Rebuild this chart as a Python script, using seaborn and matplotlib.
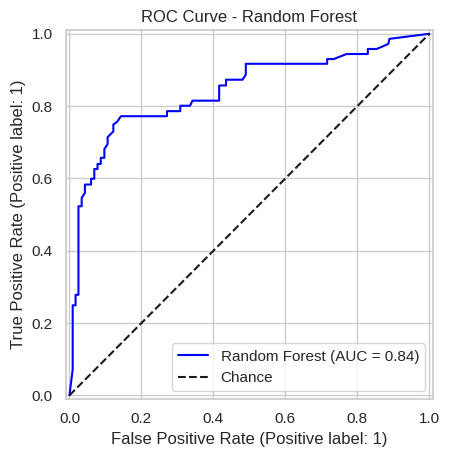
import seaborn as sns
import pandas as pd
import matplotlib.pyplot as plt

# ROC points
fpr = [0.0, 0.009, 0.009, 0.017, 0.017, 0.025, 0.025, 0.034, 0.034, 0.043, 0.043,
       0.060, 0.060, 0.069, 0.069, 0.078, 0.078, 0.087, 0.087, 0.097, 0.097, 0.106,
       0.106, 0.122, 0.122, 0.132, 0.143, 0.271, 0.271, 0.308, 0.308, 0.335, 0.342,
       0.416, 0.416, 0.435, 0.435, 0.481, 0.490, 0.490, 0.716, 0.716, 0.734, 0.770,
       0.829, 0.829, 0.854, 0.886, 0.889, 1.0]
tpr = [0.0, 0.072, 0.249, 0.249, 0.278, 0.278, 0.523, 0.523, 0.546, 0.560, 0.583,
       0.583, 0.599, 0.599, 0.626, 0.626, 0.640, 0.640, 0.657, 0.657, 0.681, 0.695,
       0.714, 0.730, 0.749, 0.756, 0.772, 0.772, 0.786, 0.786, 0.801, 0.801, 0.815,
       0.815, 0.857, 0.857, 0.873, 0.873, 0.887, 0.917, 0.917, 0.930, 0.930, 0.944,
       0.944, 0.958, 0.958, 0.972, 0.986, 1.0]
auc_value = 0.84
model_name = "Random Forest"
chance = [0.0, 1.0]

sns.set_theme(style="whitegrid")
plt.rcParams['font.family'] = ['Liberation Sans', 'DejaVu Sans']

roc = pd.DataFrame({"fpr": fpr, "tpr": tpr})
diag = pd.DataFrame({"x": chance, "y": chance})

fig = plt.figure(figsize=(4.51, 4.57), dpi=100)
ax = fig.add_axes([0.146, 0.127, 0.814, 0.807])

sns.lineplot(x="fpr", y="tpr", data=roc, ax=ax, sort=False, estimator=None,
             color="blue", linewidth=1.5,
             label=f"{model_name} (AUC = {auc_value:.2f})")
sns.lineplot(x="x", y="y", data=diag, ax=ax, sort=False, estimator=None,
             color="k", linestyle="--", linewidth=1.5, label="Chance")

ax.set_xlim(-0.01, 1.01)
ax.set_ylim(-0.01, 1.01)
ax.set_xlabel("False Positive Rate (Positive label: 1)")
ax.set_ylabel("True Positive Rate (Positive label: 1)")
ax.set_title("ROC Curve - Random Forest")
ax.legend(loc="lower right")

plt.savefig("out.png", dpi=100)
